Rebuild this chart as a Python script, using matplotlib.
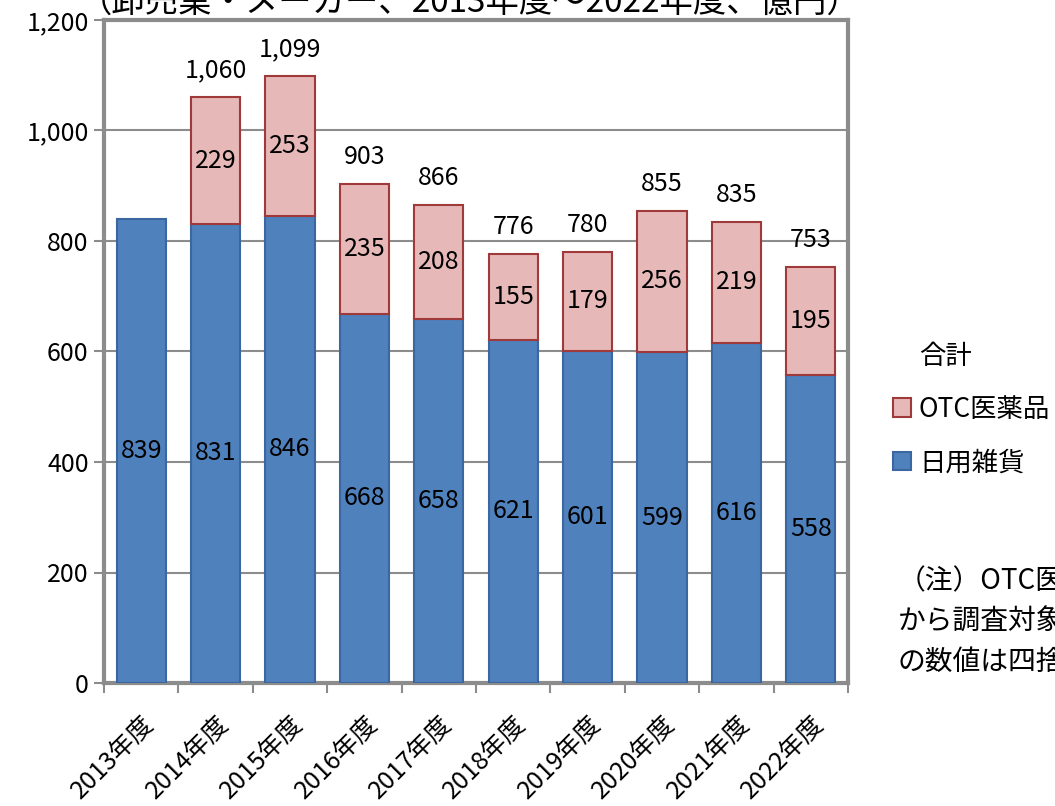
import numpy as np
import matplotlib.pyplot as plt
from matplotlib.patches import Patch

plt.rcParams['font.family'] = ['Noto Sans CJK JP', 'DejaVu Sans']

# --- datos ---
years = ['2013年度', '2014年度', '2015年度', '2016年度', '2017年度',
         '2018年度', '2019年度', '2020年度', '2021年度', '2022年度']
nichiyo = [839, 831, 846, 668, 658, 621, 601, 599, 616, 558]
otc = [0, 229, 253, 235, 208, 155, 179, 256, 219, 195]
totals = [None, 1060, 1099, 903, 866, 776, 780, 855, 835, 753]

blue = '#4F81BD'
blue_edge = '#3B67A0'
pink = '#E6B9B8'
pink_edge = '#A0393A'
grey = '#8C8C8C'

fig = plt.figure(figsize=(10.55, 8.06), dpi=100)
ax = fig.add_axes([104 / 1055, 1 - 683 / 806, 744 / 1055, 663 / 806])

x = np.arange(len(years))
w = 0.66
ax.bar(x, nichiyo, w, color=blue, edgecolor=blue_edge, linewidth=1.5, zorder=3)
otc_x = [xi for xi, v in zip(x, otc) if v > 0]
otc_v = [v for v in otc if v > 0]
otc_b = [n for n, v in zip(nichiyo, otc) if v > 0]
ax.bar(otc_x, otc_v, w, bottom=otc_b, color=pink, edgecolor=pink_edge,
       linewidth=1.5, zorder=3)

for xi, v in zip(x, nichiyo):
    ax.text(xi, v / 2, f'{v}', ha='center', va='center', fontsize=18, zorder=4)
for xi, v, b in zip(otc_x, otc_v, otc_b):
    ax.text(xi, b + v / 2, f'{v}', ha='center', va='center', fontsize=18, zorder=4)
for xi, t in zip(x, totals):
    if t:
        ax.text(xi, t + 25, f'{t:,}', ha='center', va='bottom', fontsize=18, zorder=4)

ax.set_xlim(-0.5, len(years) - 0.5)
ax.set_ylim(0, 1200)
ax.set_yticks(range(0, 1201, 200))
ax.set_yticklabels([f'{v:,}' for v in range(0, 1201, 200)], fontsize=18)
ax.yaxis.grid(True, color=grey, linewidth=1.5, zorder=0)
ax.set_axisbelow(True)

ax.set_xticks(x)
ax.set_xticklabels(years, rotation=45, ha='right', rotation_mode='anchor', fontsize=18)
ax.set_xticks(np.arange(-0.5, len(years)), minor=True)
ax.tick_params(axis='x', which='major', length=0, pad=20)
ax.tick_params(axis='x', which='minor', length=7, width=1.5, color=grey, direction='out')
ax.tick_params(axis='y', length=7, width=1.5, color=grey, direction='out', pad=4)

for s in ax.spines.values():
    s.set_color(grey)
    s.set_linewidth(3)

handles = [Patch(facecolor='none', edgecolor='none'),
           Patch(facecolor=pink, edgecolor=pink_edge, linewidth=1.5),
           Patch(facecolor=blue, edgecolor=blue_edge, linewidth=1.5)]
fig.legend(handles, ['合計', 'OTC医薬品', '日用雑貨'], loc='upper left',
           bbox_to_anchor=(882 / 1055, 1 - 332 / 806), frameon=False, fontsize=19,
           handlelength=0.7, handleheight=0.7, handletextpad=0.3, labelspacing=1.0,
           borderaxespad=0)

fig.text(0.445, 1 - 2 / 806, '（卸売業・メーカー、2013年度～2022年度、億円）',
         ha='center', va='center', fontsize=24)
fig.text(898 / 1055, 1 - 622 / 806,
         '（注）OTC医薬品は2014年度\nから調査対象に追加。合計\nの数値は四捨五入による',
         ha='left', va='center', fontsize=20, linespacing=1.45)

fig.savefig('out.png', dpi=100)
